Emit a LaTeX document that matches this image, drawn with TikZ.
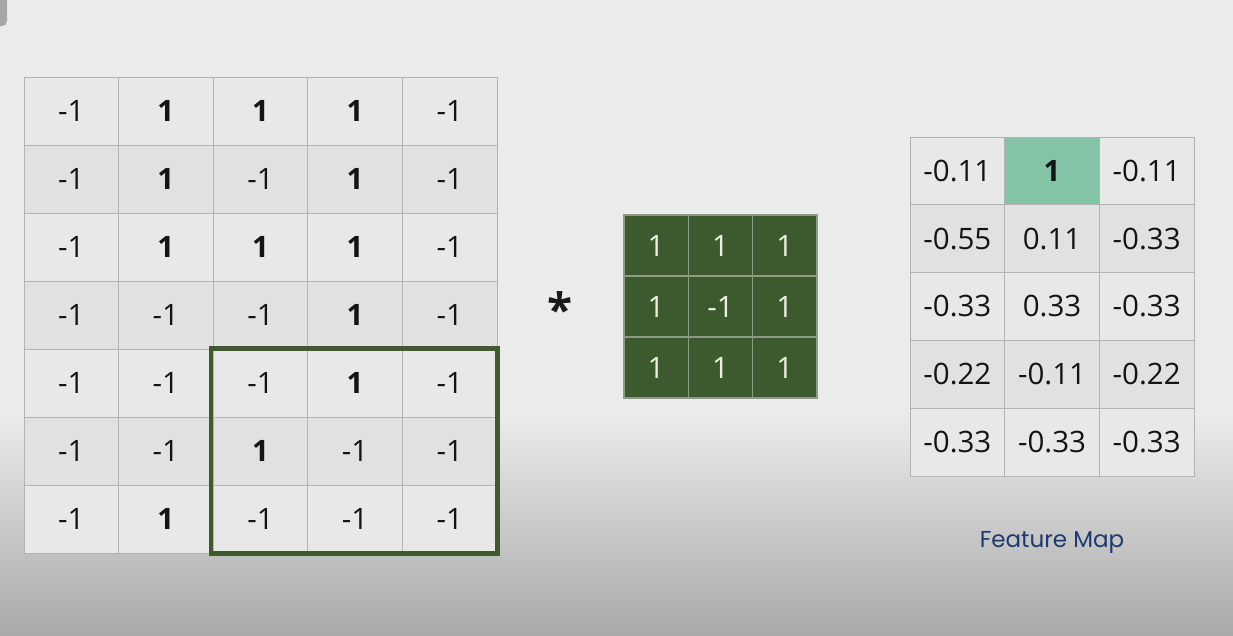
\documentclass[tikz,border=0pt]{standalone}
\usepackage{fontspec}
\setmainfont{Open Sans}
\newfontfamily\labelfont{Poppins}
\definecolor{bgtop}{HTML}{EBEBEB}
\definecolor{bgbot}{HTML}{A9A9A9}
\definecolor{cellA}{HTML}{E8E8E8}
\definecolor{cellB}{HTML}{E1E1E1}
\definecolor{gridline}{HTML}{B3B3B3}
\definecolor{framegreen}{HTML}{3E5A2E}
\definecolor{filtergreen}{HTML}{3D5A2F}
\definecolor{filterline}{HTML}{8C9C84}
\definecolor{filtertext}{HTML}{ECEFE0}
\definecolor{hilite}{HTML}{84C4A6}
\definecolor{labelblue}{HTML}{1E3A70}
\definecolor{uigray}{HTML}{A6A6A6}
\def\cellM{-1}
\def\cellO{\textbf{1}}
\tikzset{
  numtext/.style={font=\fontsize{29.5}{29.5}\selectfont, text=black!92},
  incell/.style={draw=gridline, line width=1pt, minimum width=94.6pt, minimum height=68pt, inner sep=0pt, numtext},
  fmcell/.style={draw=gridline, line width=1pt, minimum width=94.67pt, minimum height=67.8pt, inner sep=0pt, numtext},
  ftcell/.style={draw=filterline, line width=1.2pt, fill=filtergreen, minimum width=64.33pt, minimum height=61pt, inner sep=0pt, font=\fontsize{29.5}{29.5}\selectfont, text=filtertext},
  window/.style={draw=framegreen, line width=4.5pt}
}
\begin{document}
\begin{tikzpicture}[x=1pt,y=-1pt]
\useasboundingbox (0,0) rectangle (1233,635);
\fill[bgtop] (0,0) rectangle (1233,415);
\shade[top color=bgtop, bottom color=bgbot] (0,415) rectangle (1233,635);
% corner UI element
\fill[uigray, rounded corners=5pt] (-12,-12) rectangle (7,26);

% input grid 7x5
\foreach \v [count=\i from 0] in {\cellM,\cellO,\cellO,\cellO,\cellM,
                                 \cellM,\cellO,\cellM,\cellO,\cellM,
                                 \cellM,\cellO,\cellO,\cellO,\cellM,
                                 \cellM,\cellM,\cellM,\cellO,\cellM,
                                 \cellM,\cellM,\cellM,\cellO,\cellM,
                                 \cellM,\cellM,\cellO,\cellM,\cellM,
                                 \cellM,\cellO,\cellM,\cellM,\cellM}{
  \pgfmathtruncatemacro\r{int(\i/5)+1}
  \pgfmathtruncatemacro\c{mod(\i,5)+1}
  \pgfmathsetmacro\xx{24+(\c-0.5)*94.6}
  \pgfmathsetmacro\yy{77+(\r-0.5)*68}
  \pgfmathtruncatemacro\odd{mod(\r,2)}
  \ifnum\odd=1 \def\fc{cellA}\else\def\fc{cellB}\fi
  \node[incell, fill=\fc] (in-\r-\c) at (\xx,\yy) {\v};
}
% receptive window
\draw[window] ([xshift=-1.5pt]in-5-3.north west) rectangle (in-7-5.south east);

% convolution operator
\node[font=\fontsize{46}{46}\selectfont\bfseries, text=black!90] (op) at (560,309) {*};

% filter 3x3
\foreach \v [count=\i from 0] in {1,1,1,1,-1,1,1,1,1}{
  \pgfmathtruncatemacro\r{int(\i/3)+1}
  \pgfmathtruncatemacro\c{mod(\i,3)+1}
  \pgfmathsetmacro\xx{624+(\c-0.5)*64.33}
  \pgfmathsetmacro\yy{215+(\r-0.5)*61}
  \node[ftcell] (ft-\r-\c) at (\xx,\yy) {\v};
}

% feature map 5x3
\foreach \v [count=\i from 0] in {-0.11,{\textbf{1}},-0.11,
                                 -0.55,0.11,-0.33,
                                 -0.33,0.33,-0.33,
                                 -0.22,-0.11,-0.22,
                                 -0.33,-0.33,-0.33}{
  \pgfmathtruncatemacro\r{int(\i/3)+1}
  \pgfmathtruncatemacro\c{mod(\i,3)+1}
  \pgfmathsetmacro\xx{910+(\c-0.5)*94.67}
  \pgfmathsetmacro\yy{137+(\r-0.5)*67.8}
  \pgfmathtruncatemacro\odd{mod(\r,2)}
  \ifnum\odd=1 \def\fc{cellA}\else\def\fc{cellB}\fi
  \ifnum\i=1 \def\fc{hilite}\fi
  \node[fmcell, fill=\fc] (fm-\r-\c) at (\xx,\yy) {\v};
}

\node[font=\labelfont\fontsize{23}{23}\selectfont, text=labelblue] (fmlabel) at (1052,542) {Feature Map};
\end{tikzpicture}
\end{document}
